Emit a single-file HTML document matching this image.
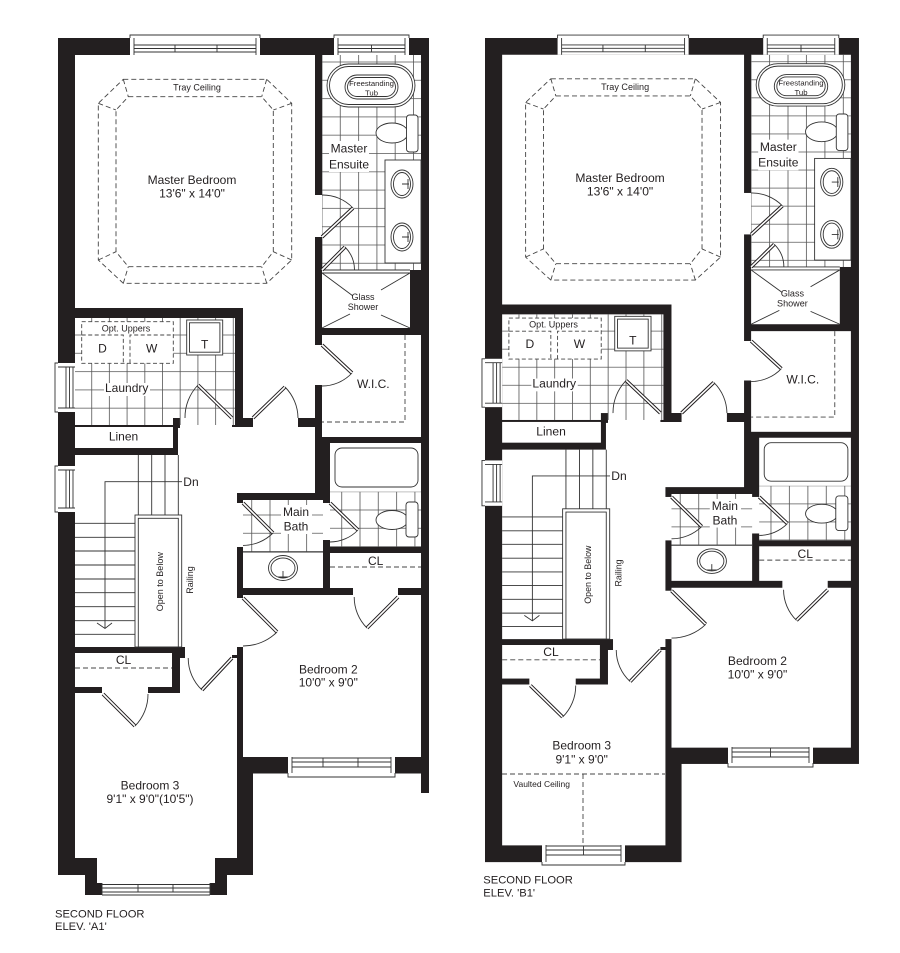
<!DOCTYPE html>
<html><head><meta charset="utf-8">
<style>
html,body{margin:0;padding:0;background:#fff;}
svg{display:block;}
text{font-family:"Liberation Sans",Arial,sans-serif;fill:#231f20;}
</style></head>
<body>
<svg width="900" height="953" viewBox="0 0 900 953" xmlns="http://www.w3.org/2000/svg">
<defs>
<pattern id="tE" patternUnits="userSpaceOnUse" x="321.5" y="61.5" width="18.3" height="18.3"><path d="M0,0.5H18.3M0.5,0V18.3" stroke="#555" stroke-width="0.8" fill="none"/></pattern>
<pattern id="tL" patternUnits="userSpaceOnUse" x="73.5" y="316.2" width="17.7" height="18.3"><path d="M0,0.5H17.7M0.5,0V18.3" stroke="#555" stroke-width="0.8" fill="none"/></pattern>
<pattern id="tM" patternUnits="userSpaceOnUse" x="232.9" y="496.2" width="18.3" height="18.3"><path d="M0,0.5H18.3M0.5,0V18.3" stroke="#555" stroke-width="0.8" fill="none"/></pattern>
<pattern id="tT" patternUnits="userSpaceOnUse" x="322.9" y="491.2" width="18.3" height="18.3"><path d="M0,0.5H18.3M0.5,0V18.3" stroke="#555" stroke-width="0.8" fill="none"/></pattern>

<g id="bk"><rect x="58" y="38" width="371" height="735.5" fill="#231f20"/></g>

<g id="rest">
  <!-- rooms -->
  <g fill="#fff">
    <path d="M75,55H315V418H243V308H75Z"/>
    <rect x="322" y="55" width="99" height="215"/>
    <rect x="322" y="270" width="88" height="58"/>
    <rect x="322" y="335" width="99" height="102"/>
    <rect x="314" y="195" width="9" height="42"/>
    <rect x="314" y="345" width="9" height="40"/>
    <rect x="75" y="318" width="160" height="107"/>
    <rect x="180" y="424" width="52" height="4"/>
    <rect x="75" y="427" width="98" height="21"/>
    <rect x="253" y="417" width="45" height="11"/>
    <path d="M75,455H178V427H315V493H237V655H185V647H75Z"/>
    <rect x="243" y="500" width="80" height="88"/>
    <rect x="236" y="503" width="8" height="44"/>
    <rect x="330" y="443" width="91" height="104"/>
    <rect x="322" y="503" width="9" height="37"/>
    <rect x="330" y="553" width="91" height="35"/>
    <rect x="243" y="595" width="178" height="162"/>
    <rect x="353" y="587" width="45" height="9"/>
    <rect x="236" y="598" width="8" height="49"/>
    <rect x="75" y="653" width="97" height="34"/>
    <rect x="102" y="686" width="46" height="8"/>
  </g>
  <rect x="173" y="418" width="7" height="10" fill="#231f20"/>

  <!-- tiles -->
  <rect x="322" y="55" width="99" height="215" fill="url(#tE)"/>
  <rect x="75" y="318" width="160" height="107" fill="url(#tL)"/>
  <rect x="243" y="500" width="80" height="52" fill="url(#tM)"/>
  <rect x="330" y="491.7" width="91" height="55.3" fill="url(#tT)"/>

  <!-- windows top & left -->
  <rect x="130" y="35" width="130" height="20" fill="#fff"/>
  <path d="M130,38V35H260V38M134,38V55M256,38V55M134,45H256M134,48.5H256M134,52H256M175,45V52M217,45V52" stroke="#333" stroke-width="0.9" fill="none"/>
  <rect x="334" y="35" width="75" height="20" fill="#fff"/>
  <path d="M334,38V35H409V38M338,38V55M405,38V55M338,45H405M338,48.5H405M338,52H405M371.5,45V52" stroke="#333" stroke-width="0.9" fill="none"/>
  <rect x="55" y="363" width="20" height="49" fill="#fff"/>
  <path d="M58,363H55V412H58M58,367H75M58,408H75M66,367V408M69.5,367V408M73,367V408" stroke="#333" stroke-width="0.9" fill="none"/>
  <rect x="55" y="466" width="20" height="46" fill="#fff"/>
  <path d="M58,466H55V512H58M58,470H75M58,508H75M66,470V508M69.5,470V508M73,470V508" stroke="#333" stroke-width="0.9" fill="none"/>

  <!-- tray ceiling -->
  <g stroke="#444" stroke-width="0.9" fill="none" stroke-dasharray="5 3">
    <path d="M123.3,79.3H266.7L291.7,103.3V260L266.7,283.3H123.3L98.3,260V103.3Z"/>
    <path d="M128.3,96.7H261.7L273.3,110V251.7L261.7,266.7H128.3L116,251.7V110Z"/>
    <path d="M123.3,79.3L128.3,96.7M98.3,103.3L116,110M266.7,79.3L261.7,96.7M291.7,103.3L273.3,110M98.3,260L116,251.7M123.3,283.3L128.3,266.7M291.7,260L273.3,251.7M266.7,283.3L261.7,266.7"/>
  </g>

  <!-- ensuite fixtures -->
  <g fill="#fff" stroke="#333" stroke-width="0.9">
    <rect x="327" y="64" width="88" height="43" rx="21.5"/>
    <rect x="329.5" y="66.5" width="83" height="38" rx="19"/>
    <rect x="345" y="75" width="53" height="24" rx="12"/>
    <rect x="347.5" y="77.5" width="48" height="19" rx="9.5"/>
    <ellipse cx="392" cy="133" rx="16" ry="10"/>
    <rect x="406.5" y="115" width="11.5" height="37" rx="3"/>
    <rect x="385" y="160" width="36" height="103"/>
    <ellipse cx="402" cy="184" rx="11" ry="14"/>
    <ellipse cx="402" cy="184" rx="8.5" ry="11.5"/>
    <ellipse cx="402" cy="237" rx="11" ry="14"/>
    <ellipse cx="402" cy="237" rx="8.5" ry="11.5"/>
  </g>
  <path d="M402,184H409M402,237H409M408,179V189M408,232V242" stroke="#333" stroke-width="0.9" fill="none"/>
  <rect x="329" y="141" width="40" height="31" fill="#fff"/>
  <!-- shower -->
  <path d="M322,270H410M322,273H410" stroke="#333" stroke-width="0.9"/>
  <path d="M322,273L353,296M410,273L381,290M322,328L350,314M410,328L381,315" stroke="#333" stroke-width="0.9"/>

  <!-- WIC shelf -->
  <path d="M405,335V422H322" stroke="#444" stroke-width="0.9" fill="none" stroke-dasharray="5 3"/>

  <!-- laundry -->
  <rect x="81.7" y="321.7" width="91.6" height="41.6" fill="#fff" stroke="#444" stroke-width="0.9" stroke-dasharray="4 2.5"/>
  <path d="M81.7,335H123.3V363.3M130,363.3V335H173.3" stroke="#444" stroke-width="0.9" fill="none" stroke-dasharray="4 2.5"/>
  <rect x="186.7" y="320" width="36" height="35" fill="#fff" stroke="#333" stroke-width="0.9"/>
  <rect x="189.5" y="322.8" width="30.4" height="29.4" fill="none" stroke="#333" stroke-width="0.9"/>
  <rect x="104" y="383" width="46" height="13" fill="#fff"/>

  <!-- stairs -->
  <g stroke="#333" stroke-width="0.9" fill="none">
    <path d="M138.3,455V515M151.7,455V515M165,455V515M178.3,455V515"/>
    <path d="M75,523.3H135M75,537.3H135M75,551H135M75,565H135M75,579H135M75,592.7H135M75,606.7H135M75,620.7H135M75,634.3H135"/>
    <path d="M182,481.7H105V628M97,623L105,628.5L112,623"/>
  </g>
  <rect x="135" y="515" width="46.7" height="132" fill="#fff" stroke="#333" stroke-width="0.9"/>
  <rect x="138.3" y="518.3" width="40" height="128.7" fill="none" stroke="#333" stroke-width="0.9"/>

  <!-- main bath -->
  <path d="M243,552H323" stroke="#333" stroke-width="0.9"/>
  <g fill="#fff" stroke="#333" stroke-width="0.9">
    <ellipse cx="283" cy="568" rx="14.5" ry="12.5"/>
    <ellipse cx="283" cy="568" rx="12" ry="10"/>
    <rect x="335" y="448" width="83" height="39" rx="7"/>
    <ellipse cx="392" cy="520" rx="16" ry="9.5"/>
    <rect x="406" y="502" width="12" height="35" rx="3"/>
  </g>
  <path d="M283,571V578M278,577H288" stroke="#333" stroke-width="0.9"/>
  <rect x="281" y="505" width="31" height="29" fill="#fff"/>

  <!-- closets -->
  <path d="M330,567H421M75,668H172" stroke="#444" stroke-width="0.9" stroke-dasharray="5 3"/>

  <!-- doors -->
  <g stroke="#231f20" stroke-width="3.6" stroke-linecap="butt">
    <path d="M322,237L353,208M322,270L345,247M322,345L352,373M232,418L198,385M253,418L285,387M243,503L273,533M330,503L358,530M398,597L367,628M243,598L277,632M232,658L202,690M103,694L135,726"/>
  </g>
  <g stroke="#fff" stroke-width="1.6">
    <path d="M322,237L353,208M322,270L345,247M322,345L352,373M232,418L198,385M253,418L285,387M243,503L273,533M330,503L358,530M398,597L367,628M243,598L277,632M232,658L202,690M103,694L135,726"/>
  </g>
  <g stroke="#333" stroke-width="0.9" fill="none">
    <path d="M353,208A42,42 0 0 0 322,195"/>
    <path d="M345,247A32.5,32.5 0 0 1 354.5,270"/>
    <path d="M352,373A41,41 0 0 1 322,386"/>
    <path d="M198,385A47,47 0 0 0 185,418"/>
    <path d="M285,387A44.5,44.5 0 0 1 298,418"/>
    <path d="M273,533A42.4,42.4 0 0 1 243,545.4"/>
    <path d="M358,530A39,39 0 0 1 330,542"/>
    <path d="M367,628A43.8,43.8 0 0 1 354.2,597"/>
    <path d="M277,632A48,48 0 0 1 243,646"/>
    <path d="M202,690A43.8,43.8 0 0 1 188.2,658"/>
    <path d="M135,726A45,45 0 0 0 148,694"/>
  </g>
</g>
</defs>

<!-- ================= LEFT PLAN (A1) ================= -->
<use href="#bk"/>
<path d="M58,773H253V875H227V895H85V875H58Z" fill="#231f20"/>
<rect x="421" y="773" width="8" height="20" fill="#231f20"/>
<path d="M180,658H185V655H232V658H237V858H215V883H97V858H75V693H180Z" fill="#fff"/>
<use href="#rest"/>
<rect x="288" y="757" width="107" height="20" fill="#fff"/>
<path d="M288,773V777H395V773M292,757V773M391,757V773M292,758H391M292,762H391M292,767H391M323,758V767M358,758V767" stroke="#333" stroke-width="0.9" fill="none"/>
<rect x="102" y="883" width="108" height="13" fill="#fff"/>
<path d="M102,883V895M210,883V895M102,884.5H210M102,888H210M102,892H210M102,895H210M138,884.5V892M173,884.5V892" stroke="#333" stroke-width="0.9" fill="none"/>

<g text-anchor="middle">
  <text x="197" y="90.5" font-size="9">Tray Ceiling</text>
  <text x="192" y="184" font-size="12">Master Bedroom</text>
  <text x="192" y="197.7" font-size="12">13'6" x 14'0"</text>
  <text x="371.5" y="86" font-size="7.7">Freestanding</text>
  <text x="371.5" y="95.5" font-size="7.7">Tub</text>
  <text x="349" y="152.7" font-size="12">Master</text>
  <text x="349" y="168.3" font-size="12">Ensuite</text>
  <text x="363" y="300" font-size="9">Glass</text>
  <text x="363" y="310" font-size="9">Shower</text>
  <text x="126" y="331.5" font-size="9">Opt. Uppers</text>
  <text x="102.5" y="352.3" font-size="12">D</text>
  <text x="151.7" y="352.3" font-size="12">W</text>
  <text x="204.7" y="348.3" font-size="12">T</text>
  <text x="126.7" y="392" font-size="12">Laundry</text>
  <text x="373.3" y="388" font-size="12">W.I.C.</text>
  <text x="123.5" y="440.7" font-size="12">Linen</text>
  <text x="296" y="516" font-size="12">Main</text>
  <text x="296" y="530.7" font-size="12">Bath</text>
  <text x="375.7" y="565" font-size="12">CL</text>
  <text x="123.5" y="664" font-size="12">CL</text>
  <text x="328.3" y="673.3" font-size="12">Bedroom 2</text>
  <text x="328.3" y="686.7" font-size="12">10'0" x 9'0"</text>
  <text font-size="9" transform="translate(160,581.7) rotate(-90)" y="3.2">Open to Below</text>
  <text font-size="9" transform="translate(190,580) rotate(-90)" y="3.2">Railing</text>
  <text x="150" y="789.3" font-size="12">Bedroom 3</text>
  <text x="150" y="803" font-size="12">9'1" x 9'0"(10'5")</text>
</g>
<text x="183.3" y="486" font-size="12">Dn</text>
<text x="55" y="917.3" font-size="11.2">SECOND FLOOR</text>
<text x="55" y="930" font-size="11.2">ELEV. 'A1'</text>

<!-- ================= RIGHT PLAN (B1) ================= -->
<g transform="translate(485,38) scale(1.008,0.987) translate(-58,-38)">
  <use href="#bk"/>
  <path d="M58,773H253V873H58Z" fill="#231f20"/>
  <path d="M180,658H185V655H232V658H237V856H75V693H180Z" fill="#fff"/>
  <use href="#rest"/>
  <g text-anchor="middle">
    <text x="197" y="90.5" font-size="9">Tray Ceiling</text>
    <text x="192" y="184" font-size="12">Master Bedroom</text>
    <text x="192" y="197.7" font-size="12">13'6" x 14'0"</text>
    <text x="371.5" y="86" font-size="7.7">Freestanding</text>
    <text x="371.5" y="95.5" font-size="7.7">Tub</text>
    <text x="349" y="152.7" font-size="12">Master</text>
    <text x="349" y="168.3" font-size="12">Ensuite</text>
    <text x="363" y="300" font-size="9">Glass</text>
    <text x="363" y="310" font-size="9">Shower</text>
    <text x="126" y="331.5" font-size="9">Opt. Uppers</text>
    <text x="102.5" y="352.3" font-size="12">D</text>
    <text x="151.7" y="352.3" font-size="12">W</text>
    <text x="204.7" y="348.3" font-size="12">T</text>
    <text x="126.7" y="392" font-size="12">Laundry</text>
    <text x="373.3" y="388" font-size="12">W.I.C.</text>
    <text x="123.5" y="440.7" font-size="12">Linen</text>
    <text x="296" y="516" font-size="12">Main</text>
    <text x="296" y="530.7" font-size="12">Bath</text>
    <text x="375.7" y="565" font-size="12">CL</text>
    <text x="123.5" y="664" font-size="12">CL</text>
    <text x="328.3" y="673.3" font-size="12">Bedroom 2</text>
    <text x="328.3" y="686.7" font-size="12">10'0" x 9'0"</text>
    <text font-size="9" transform="translate(160,581.7) rotate(-90)" y="3.2">Open to Below</text>
    <text font-size="9" transform="translate(190,580) rotate(-90)" y="3.2">Railing</text>
  </g>
  <text x="183.3" y="486" font-size="12">Dn</text>
</g>
<rect x="728" y="747" width="85" height="20" fill="#fff"/>
<path d="M728,763V767H813V763M732,747V763M809,747V763M732,748H809M732,752H809M732,757H809M770.5,748V757" stroke="#333" stroke-width="0.9" fill="none"/>
<rect x="542" y="845" width="83" height="20" fill="#fff"/>
<path d="M542,862V865H625V862M546,845V862M621,845V862M546,846H621M546,850H621M546,855H621M583.5,846V855" stroke="#333" stroke-width="0.9" fill="none"/>
<path d="M502,774H665M583,774V845" stroke="#444" stroke-width="0.9" stroke-dasharray="5 3" fill="none"/>
<g text-anchor="middle">
  <text x="581.7" y="749.3" font-size="12">Bedroom 3</text>
  <text x="581.7" y="763.3" font-size="12">9'1" x 9'0"</text>
  <text x="541.7" y="787" font-size="8.5">Vaulted Ceiling</text>
</g>
<text x="483.3" y="883.3" font-size="11.2">SECOND FLOOR</text>
<text x="483.3" y="896.7" font-size="11.2">ELEV. 'B1'</text>
</svg>
</body>
</html>
